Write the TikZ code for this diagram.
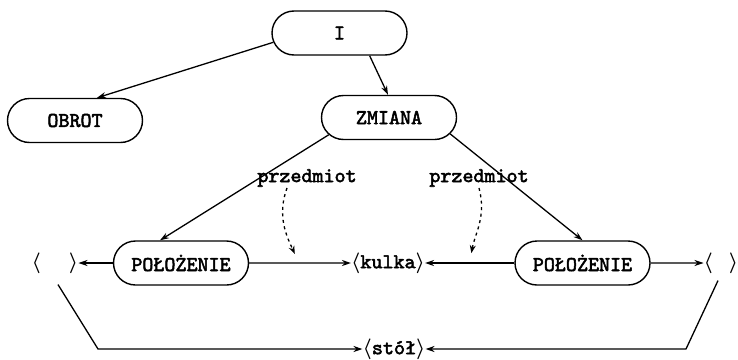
\documentclass[tikz,border=0pt]{standalone}
\usepackage{fontspec}
\setmonofont{lmmono10-regular.otf}[BoldFont=lmmono10-regular.otf, BoldFeatures={FakeBold=2.5}]
\usepackage{tikz}
\usetikzlibrary{arrows.meta, positioning, shapes.misc}
\newcommand{\typed}{\fontsize{21}{23}\selectfont\ttfamily\bfseries\boldmath}
\newcommand{\lbr}{$\langle$}
\newcommand{\rbr}{$\rangle$}
\tikzset{
  concept/.style={
    draw, rounded rectangle, line width=1.4pt,
    minimum width=135pt, minimum height=44pt, inner sep=0pt,
    font=\typed
  },
  slot/.style={inner sep=0pt, font=\typed},
  role/.style={inner sep=1pt, font=\typed},
  arrow/.style={-{Stealth[length=9pt,width=6pt]}, line width=1.3pt},
  dashedarrow/.style={-{Stealth[length=8pt,width=6pt]}, line width=1.3pt, dash pattern=on 3pt off 3.5pt}
}

\begin{document}
\begin{tikzpicture}[x=1pt, y=-1pt]
  \useasboundingbox (0,0) rectangle (738,359);
  % frame nodes
  \node[concept] (top) at (339.5,33) {I};
  \node[concept] (obrot) at (75,120.5) {OBROT};
  \node[concept] (zmiana) at (389,117.5) {ZMIANA};
  \node[concept] (polL) at (181,263) {POŁOŻENIE};
  \node[concept] (polR) at (582.5,263) {POŁOŻENIE};
  % filled and empty slots
  \node[slot] (kulka) at (388,263) {\lbr kulka\rbr};
  \node[slot] (slotL) at (55,263) {\lbr\hspace{28pt}\rbr};
  \node[slot] (slotR) at (721,263) {\lbr\hspace{16pt}\rbr};
  \node[slot] (stol) at (394,349) {\lbr stół\rbr};
  \node[role] (przL) at (307,178) {przedmiot};
  \node[role] (przR) at (479,178) {przedmiot};
  \coordinate (turnL) at (98,349);
  \coordinate (turnR) at (686,349);

  \draw[arrow] (top.188) -- ([xshift=22pt]obrot.north);
  \draw[arrow] (top.323) -- ([xshift=-1pt]zmiana.north);
  \draw[arrow] (zmiana.196) -- ([xshift=-21pt]polL.north);
  \draw[arrow] (zmiana.345) -- (polR.north);
  \draw[arrow] (polL) -- (slotL);
  \draw[arrow] (polL) -- coordinate[pos=0.49] (hitL) (kulka);
  \draw[arrow] (polR) -- coordinate[pos=0.5] (hitR) (kulka);
  \draw[arrow] (polR) -- (slotR);
  \draw[arrow] ([xshift=3pt,yshift=-11pt]slotL.south) -- (turnL) -- (stol);
  \draw[arrow] ([xshift=-3pt,yshift=-7pt]slotR.south) -- (turnR) -- (stol);
  % role pointers
  \draw[dashedarrow, shorten >=10pt] ([xshift=-20pt]przL.south) to[out=-110, in=115] (hitL);
  \draw[dashedarrow, shorten >=10pt] (przR.south) to[out=-75, in=80] (hitR);
\end{tikzpicture}
\end{document}
